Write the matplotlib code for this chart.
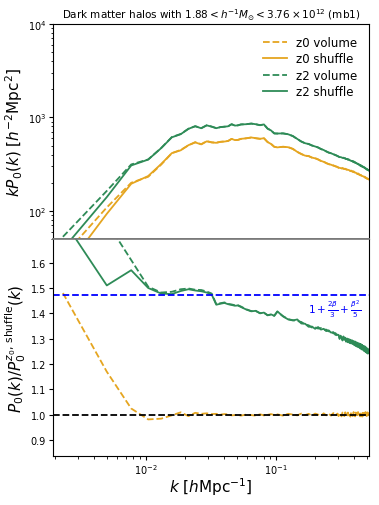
import numpy as np
import matplotlib
matplotlib.use("Agg")
import matplotlib.pyplot as plt

# ---------------- data ----------------
k = [0.0023, 0.0050, 0.0077, 0.0104, 0.0131, 0.0158, 0.0185, 0.0212, 0.0239, 0.0266,
     0.0293, 0.0320, 0.0347, 0.0374, 0.0401, 0.0428, 0.0455, 0.0482, 0.0509, 0.0536,
     0.0590, 0.0644, 0.0698, 0.0752, 0.0806, 0.0860, 0.0914, 0.0968, 0.1022,
     0.1130, 0.1238, 0.1346, 0.1454, 0.1562, 0.1670, 0.1778, 0.1886, 0.1994, 0.2102,
     0.2210, 0.2318, 0.2426, 0.2534, 0.2642, 0.2750, 0.2858, 0.2966,
     0.3020, 0.3074, 0.3128, 0.3182, 0.3236, 0.3290, 0.3344, 0.3398, 0.3452, 0.3506,
     0.3560, 0.3614, 0.3668, 0.3722, 0.3776, 0.3830, 0.3884, 0.3938, 0.3992, 0.4046,
     0.4100, 0.4154, 0.4208, 0.4262, 0.4316, 0.4370, 0.4424, 0.4478, 0.4532, 0.4586,
     0.4640, 0.4694, 0.4748, 0.4802, 0.4856, 0.4910, 0.4964, 0.5018, 0.5072, 0.5126,
     0.5180]

# k P0(k) of the z0 shuffle sample
kP_z0_shuffle = [22, 93, 195, 236, 318, 415, 445, 505, 540, 515,
                 555, 540, 535, 548, 552, 560, 590, 572, 575, 590,
                 598, 610, 600, 590, 600, 545, 520, 485, 478,
                 486, 480, 460, 428, 405, 390, 385, 372, 365, 355,
                 343, 335, 325, 316, 312, 305, 300, 294,
                 290, 289, 287, 286, 285, 283, 282, 280, 278, 277,
                 275, 274, 271, 268, 267, 265, 263, 262, 259, 257,
                 256, 252, 250, 249, 246, 244, 242, 240, 238, 236,
                 235, 233, 231, 229, 227, 225, 223, 221, 220, 218,
                 216]

# ratios P0 / P0^{z0, shuffle}
ratio_z0_volume = [1.48, 1.17, 1.025, 0.982, 0.985, 0.998, 1.010, 0.995, 1.008, 1.004,
                   1.006, 1.003, 1.004, 1.001, 1.003, 1.002, 0.998, 0.999, 1.000, 0.997,
                   1.001, 0.999, 0.997, 1.002, 0.998, 1.000, 1.003, 0.999, 1.002,
                   0.997, 1.004, 1.001, 0.998, 1.005, 0.999, 1.004, 0.997, 1.005, 1.001,
                   0.996, 1.006, 0.998, 1.004, 0.997, 1.007, 0.999, 1.005,
                   0.995, 1.008, 1.001, 0.994, 1.009, 1.000, 0.995, 1.010, 1.002, 0.994,
                   1.009, 0.998, 1.006, 0.993, 1.010, 1.001, 0.995, 1.011, 0.999, 0.994,
                   1.009, 1.003, 0.993, 1.011, 0.998, 1.006, 0.994, 1.010, 1.001, 0.993,
                   1.012, 0.997, 1.007, 0.994, 1.011, 0.999, 0.995, 1.010, 0.998, 1.006,
                   1.000]

ratio_z2_volume = [2.40, 1.76, 1.61, 1.505, 1.482, 1.485, 1.495, 1.498, 1.493, 1.492,
                   1.486, 1.478, 1.436, 1.440, 1.443, 1.437, 1.435, 1.432, 1.432, 1.427,
                   1.416, 1.409, 1.409, 1.401, 1.402, 1.393, 1.395, 1.391, 1.406,
                   1.389, 1.377, 1.373, 1.370, 1.366, 1.356, 1.353, 1.344, 1.345, 1.340,
                   1.342, 1.335, 1.336, 1.329, 1.330, 1.321, 1.322, 1.311,
                   1.312, 1.302, 1.310, 1.304, 1.296, 1.307, 1.297, 1.302, 1.290, 1.299,
                   1.288, 1.297, 1.285, 1.294, 1.283, 1.292, 1.280, 1.289, 1.276, 1.287,
                   1.273, 1.284, 1.270, 1.281, 1.268, 1.279, 1.264, 1.277, 1.260, 1.274,
                   1.258, 1.270, 1.253, 1.268, 1.250, 1.264, 1.246, 1.260, 1.243, 1.256,
                   1.246]

ratio_z2_shuffle = [1.77, 1.51, 1.57, 1.50, 1.478, 1.476, 1.488, 1.495, 1.490, 1.487,
                    1.482, 1.474, 1.434, 1.438, 1.441, 1.436, 1.433, 1.430, 1.431, 1.425,
                    1.415, 1.408, 1.410, 1.400, 1.403, 1.392, 1.396, 1.390, 1.408,
                    1.388, 1.376, 1.372, 1.376, 1.360, 1.359, 1.347, 1.348, 1.339, 1.346,
                    1.336, 1.339, 1.330, 1.333, 1.324, 1.326, 1.315, 1.316,
                    1.315, 1.299, 1.312, 1.305, 1.293, 1.309, 1.296, 1.304, 1.288, 1.301,
                    1.286, 1.299, 1.283, 1.296, 1.281, 1.294, 1.279, 1.291, 1.274, 1.289,
                    1.271, 1.286, 1.268, 1.283, 1.266, 1.281, 1.262, 1.279, 1.258, 1.276,
                    1.256, 1.272, 1.251, 1.270, 1.248, 1.266, 1.244, 1.262, 1.241, 1.258,
                    1.245]

beta = 0.6
labels = ["z0 volume", "z0 shuffle", "z2 volume", "z2 shuffle"]
title = r"Dark matter halos with $1.88 < h^{-1}M_{\odot} < 3.76\times10^{12}$ (mb1)"

# ---------------- plotting ----------------
orange = "#E5A520"
green = "#2E8B57"

k_arr = np.array(k)
base = np.array(kP_z0_shuffle, dtype=float)
r_z0v = np.array(ratio_z0_volume)
r_z2v = np.array(ratio_z2_volume)
r_z2s = np.array(ratio_z2_shuffle)

W, H = 379, 506
fig = plt.figure(figsize=(W / 100, H / 100), dpi=100)
x0, x1 = 53 / W, 369.3 / W
ax1 = fig.add_axes([x0, 1 - 240 / H, x1 - x0, (240 - 25) / H])
ax2 = fig.add_axes([x0, 1 - 456.7 / H, x1 - x0, (456.7 - 240) / H], sharex=ax1)

lw = 1.3
ax1.plot(k_arr, base * r_z0v, color=orange, ls="--", lw=lw, label=labels[0])
ax1.plot(k_arr, base, color=orange, ls="-", lw=lw, label=labels[1])
ax1.plot(k_arr, base * r_z2v, color=green, ls="--", lw=lw, label=labels[2])
ax1.plot(k_arr, base * r_z2s, color=green, ls="-", lw=lw, label=labels[3])
ax1.set_yscale("log")
ax1.set_xscale("log")
ax1.set_ylim(50, 1e4)
ax1.set_xlim(0.00193, 0.52)
ax1.set_ylabel(r"$kP_0(k)$ $[h^{-2}\mathrm{Mpc}^2]$", fontsize=11, labelpad=2)
ax1.set_title(title, fontsize=7.5, pad=4)
ax1.legend(loc="upper right", frameon=False, fontsize=8.5, labelspacing=0.3,
           borderaxespad=0.6)
ax1.tick_params(labelbottom=False, labelsize=7, length=3, pad=2)
ax1.tick_params(which="minor", length=1.8)

ax2.plot(k_arr, r_z0v, color=orange, ls="--", lw=lw)
ax2.plot(k_arr, r_z2v, color=green, ls="--", lw=lw)
ax2.plot(k_arr, r_z2s, color=green, ls="-", lw=lw)
ax2.axhline(1.0, color="k", ls="--", lw=1.3)
kaiser = 1 + 2 * beta / 3 + beta ** 2 / 5
ax2.axhline(kaiser, color="blue", ls="--", lw=1.3)
ax2.text(0.28, 1.418, r"$1+\frac{2\beta}{3}+\frac{\beta^2}{5}$", color="blue",
         fontsize=7.5, ha="center", va="center")
ax2.set_ylim(0.839, 1.693)
ax2.set_yticks([0.9, 1.0, 1.1, 1.2, 1.3, 1.4, 1.5, 1.6])
ax2.set_ylabel(r"$P_0(k)/P_0^{z_0,\,\mathrm{shuffle}}(k)$", fontsize=11, labelpad=2)
ax2.set_xlabel(r"$k$ $[h\mathrm{Mpc}^{-1}]$", fontsize=11, labelpad=-1)
ax2.tick_params(labelsize=7, length=3, pad=2)
ax2.tick_params(which="minor", length=1.8)

ax1.spines["bottom"].set_color("#777777")
ax1.spines["bottom"].set_linewidth(1.2)
ax2.spines["top"].set_color("#777777")
ax2.spines["top"].set_linewidth(1.2)

fig.savefig("out.png", dpi=100)
